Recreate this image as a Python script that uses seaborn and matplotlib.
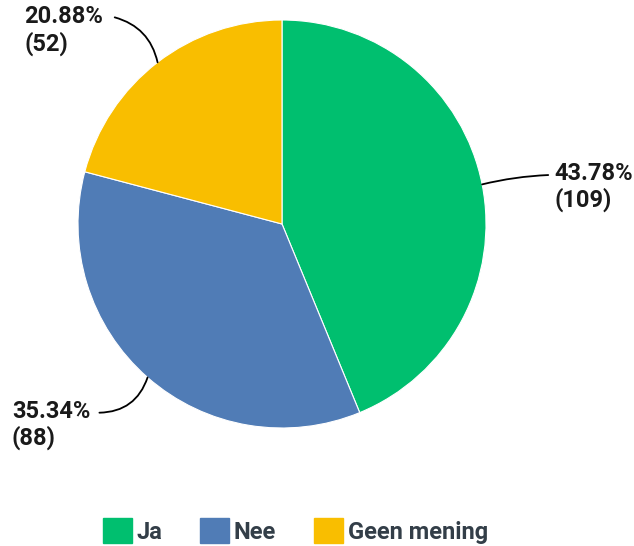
import numpy as np
import matplotlib
matplotlib.use("Agg")
import matplotlib.pyplot as plt
from matplotlib.patches import Patch
import seaborn as sns

categories = ["Ja", "Nee", "Geen mening"]
percentages = [43.78, 35.34, 20.88]
counts = [109, 88, 52]
colors = ["#00BF6F", "#507CB6", "#F9BE00"]

sns.set_theme(style="white")
plt.rcParams["font.family"] = ["Roboto", "DejaVu Sans"]

W, H = 634, 546
fig = plt.figure(figsize=(W / 100, H / 100), dpi=100)
# pie axes: centre (282,224) px, radius 204 px
ax = fig.add_axes([78 / W, (H - 428) / H, 408 / W, 408 / H])
wedges, _ = ax.pie(percentages, colors=colors, startangle=90, counterclock=False,
                   radius=1.0, wedgeprops=dict(linewidth=0.8, edgecolor="white"))
ax.set_xlim(-1, 1)
ax.set_ylim(-1, 1)
ax.set_aspect("equal")
ax.axis("off")

# label layout: (text x (left), text y of first line, line end x, line end y, rad)
layout = {
    "Ja": (1.335, 0.25, 1.305, 0.24, 0.05),
    "Nee": (-1.324, -0.917, -0.895, -0.925, 0.35),
    "Geen mening": (-1.262, 1.015, -0.82, 1.013, -0.3),
}
fs = 17
cum = 0.0
for cat, p, n in zip(categories, percentages, counts):
    mid = 90 - (cum + p / 2) / 100 * 360
    cum += p
    ex, ey = np.cos(np.radians(mid)), np.sin(np.radians(mid))
    tx, ty, lx, ly, rad = layout[cat]
    ax.annotate("", xy=(ex, ey), xytext=(lx, ly),
                arrowprops=dict(arrowstyle="-", color="black", lw=1.3,
                                connectionstyle=f"arc3,rad={rad}",
                                shrinkA=0, shrinkB=0),
                annotation_clip=False)
    ax.text(tx, ty, f"{p:.2f}%", ha="left", va="center", fontsize=fs,
            fontweight="bold", color="#1a1a1a", clip_on=False)
    ax.text(tx, ty - 0.132, f"({n})", ha="left", va="center", fontsize=fs,
            fontweight="bold", color="#1a1a1a", clip_on=False)

handles = [Patch(facecolor=c, edgecolor=c) for c in colors]
fig.legend(handles, categories, loc="center", bbox_to_anchor=(0.466, 15 / H),
           ncol=3, frameon=False, handlelength=1.22,
           handleheight=1.22, handletextpad=0.2, columnspacing=1.6,
           labelcolor="#333e48", prop=dict(weight="bold", size=fs))

fig.savefig("out.png", dpi=100)
